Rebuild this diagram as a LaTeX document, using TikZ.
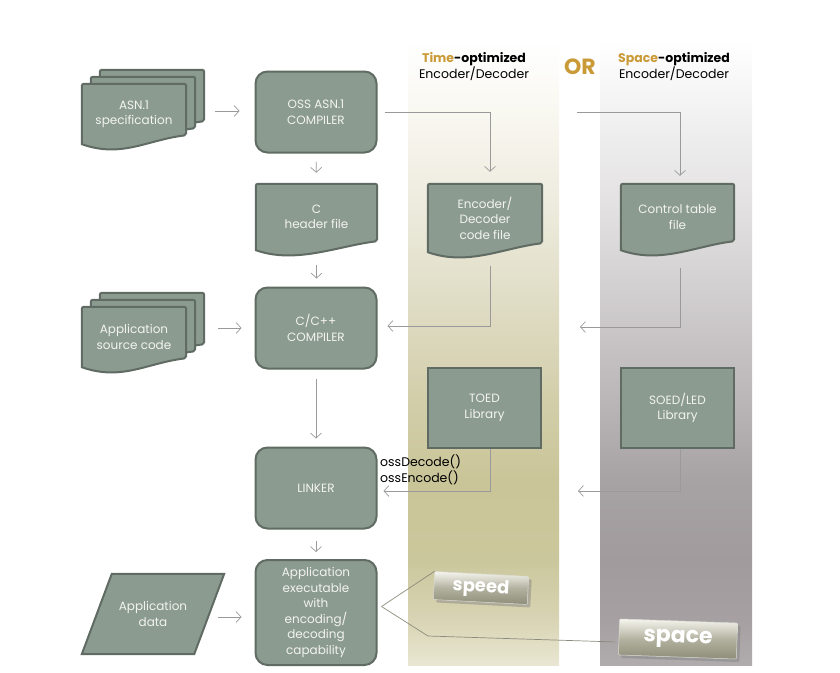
\documentclass[tikz,border=0pt]{standalone}
\usepackage{fontspec}
\setmainfont{Poppins}
\usetikzlibrary{arrows.meta,calc,shadows}

\definecolor{boxfill}{HTML}{8C9B90}
\definecolor{boxline}{HTML}{5F6B63}
\definecolor{boxtext}{HTML}{F2F3F0}
\definecolor{flowgray}{HTML}{9A9A9A}
\definecolor{hintgray}{HTML}{8C8C7E}
\definecolor{gold}{HTML}{C99A36}
% Streifen
\definecolor{ta}{HTML}{E9E7D3}\definecolor{tb}{HTML}{D8D4B4}\definecolor{tc}{HTML}{CBC79C}
\definecolor{td}{HTML}{CAC598}\definecolor{te}{HTML}{D2CEAA}\definecolor{tf}{HTML}{E0DDC6}
\definecolor{tg}{HTML}{EEECDF}\definecolor{th}{HTML}{FAF9F3}
\definecolor{sa}{HTML}{B0ABAD}\definecolor{sb}{HTML}{A6A0A2}\definecolor{sc}{HTML}{A19B9D}
\definecolor{sd}{HTML}{A7A2A4}\definecolor{se}{HTML}{BAB6B7}\definecolor{sf}{HTML}{D0CDCE}
\definecolor{sg}{HTML}{E4E2E2}\definecolor{sh}{HTML}{F4F4F4}
\definecolor{btntop}{HTML}{F6F5EE}\definecolor{btnmid}{HTML}{B3B2A0}\definecolor{btnbot}{HTML}{8E8D79}

\pgfdeclareverticalshading{timeshade}{100bp}{color(0bp)=(ta); color(25bp)=(ta); color(28.6bp)=(tb);
  color(33.4bp)=(tc); color(39.8bp)=(td); color(46.2bp)=(te); color(54.2bp)=(tf);
  color(62.2bp)=(tg); color(70.2bp)=(th); color(75bp)=(white); color(100bp)=(white)}
\pgfdeclareverticalshading{spaceshade}{100bp}{color(0bp)=(sa); color(25bp)=(sa); color(28.6bp)=(sb);
  color(33.4bp)=(sc); color(39.8bp)=(sd); color(46.2bp)=(se); color(54.2bp)=(sf);
  color(62.2bp)=(sg); color(70.2bp)=(sh); color(75bp)=(white); color(100bp)=(white)}
\pgfdeclareverticalshading{button}{100bp}{color(0bp)=(btnbot); color(25bp)=(btnbot);
  color(50bp)=(btnmid); color(75bp)=(btntop); color(100bp)=(btntop)}

\pgfdeclarelayer{stripes}
\pgfdeclarelayer{shapes}
\pgfsetlayers{stripes,shapes,main}

\newcommand\boxfont{\fontsize{12}{15.5}\selectfont}
% Dokument mit Wellenkante: Knoten, xshift, yshift
\newcommand\docshape[3]{%
  \filldraw[docbox] ([xshift=#2,yshift=#3]#1.south west) -- ([xshift=#2,yshift=#3]#1.north west)
    -- ([xshift=#2,yshift=#3]#1.north east) -- ([xshift=#2,yshift=#3+9pt]#1.south east) [sharp corners]
    .. controls ([xshift=#2-40pt,yshift=#3+4pt]#1.south east) and ([xshift=#2+40pt,yshift=#3-14pt]#1.south west)
    .. ([xshift=#2,yshift=#3]#1.south west) -- cycle;}

\begin{document}
\begin{tikzpicture}[x=1pt,y=-1pt]
    \tikzset{box/.style={draw=boxline, line width=2pt, fill=boxfill, rounded corners=12pt, text=boxtext,
            align=center, minimum width=121pt, minimum height=81pt, inner sep=2pt, font=\boxfont},
        plainbox/.style={box, rounded corners=0pt, minimum width=113pt, minimum height=80pt},
        doc/.style={text=boxtext, align=center, inner sep=0pt, font=\boxfont},
        docbox/.style={draw=boxline, line width=2pt, fill=boxfill, rounded corners=2pt},
        flow/.style={draw=flowgray, line width=0.7pt, -{Straight Barb[length=5pt,width=11pt]}},
        hint/.style={draw=hintgray, line width=0.7pt},
        head/.style={align=center, font=\fontsize{12.5}{16}\selectfont},
        btn/.style={draw=btntop!80!gray, line width=0.5pt, shading=button, rounded corners=1pt,
            drop shadow={shadow xshift=3pt, shadow yshift=-3pt, opacity=.45},
            text=white, font=\bfseries, inner sep=0pt}}
    \useasboundingbox (0,0) rectangle (840,672);

    %Streifen
    \begin{pgfonlayer}{stripes}
        \fill[shading=timeshade] (408,40) rectangle (559,665);
        \fill[shading=spaceshade] (600,40) rectangle (752,665);
    \end{pgfonlayer}

    %Kopf
    \node[head] (timehd) at (474,67) {\textbf{\textcolor{gold}{Time}-optimized}\\Encoder/Decoder};
    \node[head] (spacehd) at (674,67) {\textbf{\textcolor{gold}{Space}-optimized}\\Encoder/Decoder};
    \node[text=gold, font=\fontsize{22}{22}\bfseries\selectfont] (or) at (580,67) {OR};

    %linke Spalte
    \node[doc, minimum width=104pt, minimum height=60pt] (asn) at (134,114) {ASN.1\\specification};
    \node[doc, minimum width=104pt, minimum height=60pt] (src) at (134,337) {Application\\source code};
    \node[doc, minimum width=142pt, minimum height=80pt] (data) at (153,614) {Application\\data};

    %mittlere Spalte
    \node[box] (oss) at (316,112) {OSS ASN.1\\COMPILER};
    \node[doc, minimum width=121pt, minimum height=66pt] (header) at (316.5,217) {C\\header file};
    \node[box] (cc) at (316,328) {C/C++\\COMPILER};
    \node[box] (linker) at (316,488) {LINKER};
    \node[box, minimum height=105pt] (exe) at (316,612.5) {Application\\executable\\with\\encoding/\\decoding\\capability};

    %Time
    \node[doc, minimum width=114pt, minimum height=68pt] (encfile) at (485,218) {Encoder/\\Decoder\\code file};
    \node[plainbox] (toed) at (484.5,408) {TOED\\Library};
    %Space
    \node[doc, minimum width=113pt, minimum height=66pt] (ctrl) at (677.5,217) {Control table\\file};
    \node[plainbox] (soed) at (677.5,408) {SOED/LED\\Library};

    \begin{pgfonlayer}{shapes}
        \docshape{asn}{18pt}{14pt}
        \docshape{asn}{9pt}{7pt}
        \docshape{asn}{0pt}{0pt}
        \docshape{src}{18pt}{14pt}
        \docshape{src}{9pt}{7pt}
        \docshape{src}{0pt}{0pt}
        \docshape{header}{0pt}{0pt}
        \docshape{encfile}{0pt}{0pt}
        \docshape{ctrl}{0pt}{0pt}
        \filldraw[docbox, rounded corners=0pt] ([xshift=30pt]data.north west) -- (data.north east)
            -- ([xshift=-30pt]data.south east) -- (data.south west) -- cycle;
    \end{pgfonlayer}

    %Pfeile
    \draw[flow] ($(asn.east)+(29,-3)$) -- ($(asn.east -| oss.west)+(-15,-3)$);
    \draw[flow, shorten <=8pt, shorten >=11pt] (oss.south) -- (header.north);
    \draw[flow] ([xshift=7pt]oss.east) -| ([xshift=5pt,yshift=12pt]encfile.north);
    \coordinate (sbranch) at (577,112);
    \draw[flow] (sbranch) -| ([xshift=2.5pt,yshift=8pt]ctrl.north);
    \draw[flow, shorten <=15pt, shorten >=8pt] (header.south) -- (header.south |- cc.north);
    \draw[flow] ($(src.east)+(32,-9)$) -- ($(src.east -| cc.west)+(-13,-9)$);
    \draw[flow] ([xshift=5pt,yshift=-14pt]encfile.south) |- ([xshift=10pt,yshift=2pt]cc.east);
    \coordinate (sfree1) at (580,327);
    \draw[flow] ([xshift=2.5pt,yshift=-18pt]ctrl.south) |- (sfree1);
    \draw[flow, shorten <=9pt, shorten >=8pt] (cc.south) -- (linker.north);
    \draw[flow] ([xshift=5.5pt]toed.south) |- ([xshift=6pt,yshift=-3pt]linker.east);
    \coordinate (sfree2) at (578,491);
    \draw[flow] ([xshift=2.5pt]soed.south) |- (sfree2);
    \draw[flow, shorten <=11pt, shorten >=7pt] (linker.south) -- (exe.north);
    \draw[flow] ($(data.east)+(-6,3)$) -- ($(data.east -| exe.west)+(-13,3)$);

    \node[align=left, anchor=west, inner sep=0pt, font=\fontsize{12.5}{16}\selectfont] (fns) at (380,470)
        {ossDecode()\\ossEncode()};

    %Knoepfe
    \node[btn, minimum width=94pt, minimum height=28pt, rotate=-3, font=\fontsize{18}{18}\bfseries\selectfont]
        (speed) at (481,588) {speed};
    \node[btn, minimum width=118pt, minimum height=36pt, rotate=-2, font=\fontsize{22}{22}\bfseries\selectfont]
        (space) at (678,639) {space};
    \coordinate (fork) at ([xshift=4pt,yshift=6pt]exe.east);
    \draw[hint] (fork) -- (speed.north west);
    \draw[hint] (fork) -- (428,636) -- ([xshift=-4pt,yshift=-5pt]space.west);
\end{tikzpicture}
\end{document}
